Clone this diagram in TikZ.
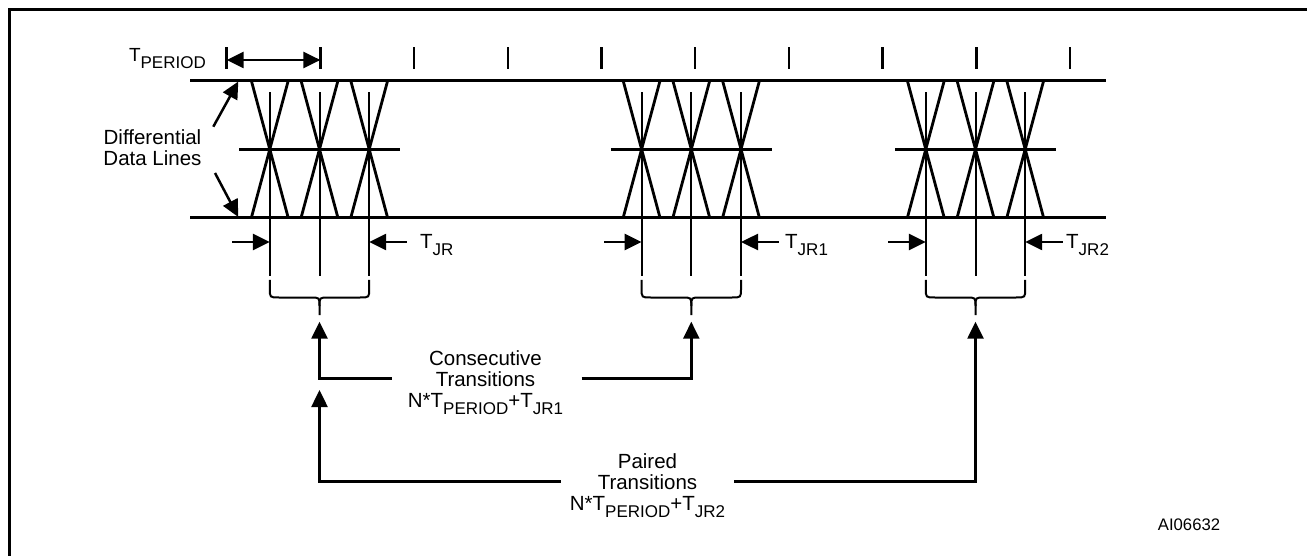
\documentclass[tikz,border=0pt]{standalone}
\usepackage{fontspec}
\setmainfont{Liberation Sans}
\usetikzlibrary{arrows.meta}
\newcommand{\sbs}[1]{\raisebox{-6.7pt}{\fontsize{17}{17}\selectfont #1}}
\begin{document}
\begin{tikzpicture}[x=1pt,y=-1pt,
  frameline/.style={line width=3pt},
  dataline/.style={line width=3pt},
  xline/.style={line width=2.8pt},
  vline/.style={line width=2pt},
  tickline/.style={line width=2.5pt},
  conn/.style={line width=2.5pt},
  arrowend/.style={-{Triangle[length=17pt,width=16pt]}},
  botharrow/.style={{Triangle[length=17pt,width=16pt]}-{Triangle[length=17pt,width=16pt]}},
  bracestyle/.style={line width=2pt},
  lbl/.style={inner sep=0pt, font=\fontsize{20.5}{21}\selectfont, align=center},
  smalllbl/.style={inner sep=0pt, font=\fontsize{16.7}{17}\selectfont}
]
\useasboundingbox (0,0) rectangle (1307,556);
% frame (only left and top edges visible)
\draw[frameline] (9.7,556) -- (9.7,9.7) -- (1307,9.7);

% data lines
\coordinate (topL) at (190,80.5);
\coordinate (topR) at (1106,80.5);
\coordinate (botL) at (190,218);
\coordinate (botR) at (1106,218);
\draw[dataline] (topL) -- (topR);
\draw[dataline] (botL) -- (botR);

% period ticks
\foreach \k in {0,...,9}{
  \coordinate (tick\k) at (226.7+\k*93.7,58);
  \draw[tickline] (226.7+\k*93.7,47.5) -- (226.7+\k*93.7,69);
}
\coordinate (pA) at (226.7,60);
\coordinate (pB) at (320.4,60);
\draw[conn,botharrow] (pA) -- (pB);
\node[lbl, font=\fontsize{19}{20}\selectfont, anchor=base east] (tperiod) at (206,61.7) {T\sbs{PERIOD}};

% groups
\foreach \c/\lx/\lab in {319.5/420/JR, 691.3/785/JR1, 975.5/1066/JR2}{
  \draw[dataline] (\c-80.5,149.5) -- (\c+80.5,149.5);
  \foreach \k in {-1,0,1}{
    \pgfmathsetmacro\cx{\c+\k*49.7}
    \draw[xline] (\cx-18.5,80.5) -- (\cx+18.5,218);
    \draw[xline] (\cx+18.5,80.5) -- (\cx-18.5,218);
    \draw[vline] (\cx,92.5) -- (\cx,276);
  }
  % jitter arrows
  \coordinate (jl-\lab) at (\c-49.7-37.5,242);
  \coordinate (jlt-\lab) at (\c-49.7,242);
  \coordinate (jr-\lab) at (\c+49.7+37.5,242);
  \coordinate (jrt-\lab) at (\c+49.7,242);
  \draw[conn,arrowend] (jl-\lab) -- (jlt-\lab);
  \draw[conn,arrowend] (jr-\lab) -- (jrt-\lab);
  \node[lbl, anchor=base west] (t-\lab) at (\lx,249) {T\sbs{\lab}};
  % brace
  \draw[bracestyle] (\c-49.7,280) -- (\c-49.7,288.5)
     .. controls (\c-49.7,297.5) .. (\c-40.7,297.5) -- (\c-9,297.5)
     .. controls (\c,297.5) .. (\c,306) -- (\c,315);
  \draw[bracestyle] (\c+49.7,280) -- (\c+49.7,288.5)
     .. controls (\c+49.7,297.5) .. (\c+40.7,297.5) -- (\c+9,297.5)
     .. controls (\c,297.5) .. (\c,306);
  \coordinate (brace-\lab) at (\c,321.7);
}

% differential data lines label
\node[lbl, anchor=north] (diff) at (152.5,129.4) {Differential\\Data Lines};
\coordinate (dA) at (213.3,126.7);
\coordinate (dAt) at (238.3,81.5);
\coordinate (dB) at (215,173);
\coordinate (dBt) at (238.3,217);
\draw[conn,arrowend] (dA) -- (dAt);
\draw[conn,arrowend] (dB) -- (dBt);

% consecutive transitions
\node[lbl, anchor=north] (cons) at (485.5,350.6) {Consecutive\\Transitions\\N*T\sbs{PERIOD}+T\sbs{JR1}};
\coordinate (consL) at (391.7,378.3);
\coordinate (consR) at (581.7,378.3);
\draw[conn,arrowend] (consL) -- (319.5,378.3) -- (brace-JR);
\draw[conn,arrowend] (consR) -- (691.3,378.3) -- (brace-JR1);

% paired transitions
\node[lbl, anchor=north] (pair) at (647.5,453.6) {Paired\\Transitions\\N*T\sbs{PERIOD}+T\sbs{JR2}};
\coordinate (pairL) at (560.7,481.7);
\coordinate (pairR) at (734,481.7);
\coordinate (pairLt) at (319.5,390);
\draw[conn,arrowend] (pairL) -- (319.5,481.7) -- (pairLt);
\draw[conn,arrowend] (pairR) -- (975.5,481.7) -- (brace-JR2);

% figure id
\node[smalllbl, anchor=base west] (aiid) at (1157.7,530) {AI06632};
\end{tikzpicture}
\end{document}
